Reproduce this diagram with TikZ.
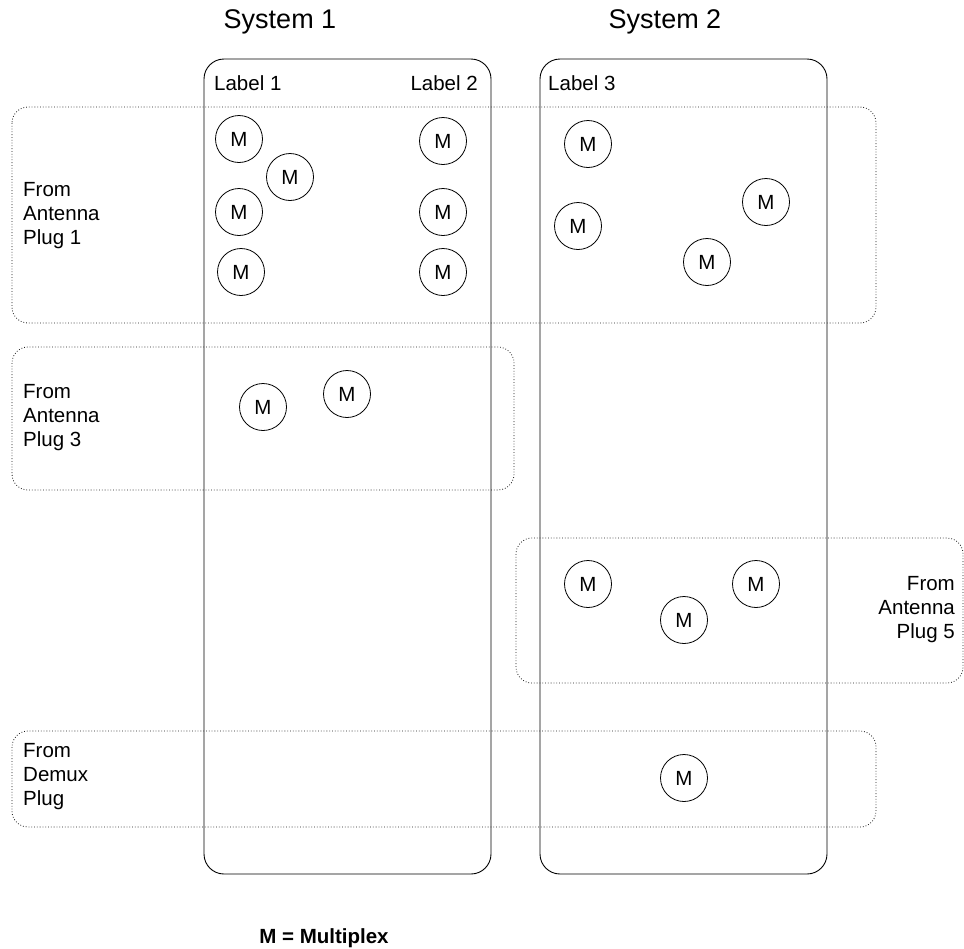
\documentclass[tikz,border=0pt]{standalone}
\usepackage{fontspec}
\setmainfont{Liberation Sans}
\begin{document}
\begin{tikzpicture}[x=1pt,y=-1pt,
  sysbox/.style={draw=black, line width=0.9pt, rounded corners=20pt},
  plugbox/.style={draw=black!90, line width=0.8pt, dotted, rounded corners=16pt},
  mux/.style={circle, draw=black, line width=0.8pt, minimum size=47pt, inner sep=0pt, font=\fontsize{20.5}{24}\selectfont},
  lbl/.style={font=\fontsize{20.5}{24}\selectfont, inner sep=0pt},
  plugtxt/.style={font=\fontsize{20.5}{24}\selectfont, inner sep=0pt, align=left},
  title/.style={font=\fontsize{27}{32}\selectfont, inner sep=0pt}]
\useasboundingbox (0,0) rectangle (964,948);

% antenna / demux groups
\draw[plugbox] (12,107) rectangle (876,323);
\draw[plugbox] (12,347) rectangle (514,490);
\draw[plugbox] (516,538) rectangle (963,683);
\draw[plugbox] (12,731) rectangle (876,827);

% systems
\draw[sysbox] (204,59) rectangle (491,874);
\draw[sysbox] (540,59) rectangle (827,874);

\node[title] (t1) at (280,22) {System 1};
\node[title] (t2) at (665,22) {System 2};

\node[lbl, anchor=west] (l1) at (214,83) {Label 1};
\node[lbl, anchor=east] (l2) at (478,83) {Label 2};
\node[lbl, anchor=west] (l3) at (548,83) {Label 3};

\node[plugtxt, anchor=north west] (p1) at (23,182) {From\\Antenna\\Plug 1};
\node[plugtxt, anchor=north west] (p3) at (23,384) {From\\Antenna\\Plug 3};
\node[plugtxt, anchor=north east, align=right] (p5) at (955,576) {From\\Antenna\\Plug 5};
\node[plugtxt, anchor=north west] (pd) at (23,743) {From\\Demux\\Plug};

% multiplexers
\node[mux] (m1) at (239,139) {M};
\node[mux] (m2) at (290,177) {M};
\node[mux] (m3) at (239,212) {M};
\node[mux] (m4) at (241,272) {M};
\node[mux] (m5) at (443,141) {M};
\node[mux] (m6) at (443,212) {M};
\node[mux] (m7) at (443,272) {M};
\node[mux] (m8) at (588,144) {M};
\node[mux] (m9) at (578,226) {M};
\node[mux] (m10) at (766,202) {M};
\node[mux] (m11) at (707,262) {M};
\node[mux] (m12) at (263,407) {M};
\node[mux] (m13) at (347,394) {M};
\node[mux] (m14) at (588,584) {M};
\node[mux] (m15) at (756,584) {M};
\node[mux] (m16) at (684,620) {M};
\node[mux] (m17) at (684,778) {M};

\node[lbl, font=\bfseries\fontsize{20.5}{24}\selectfont, anchor=base] (legend) at (324,943) {M = Multiplex};
\end{tikzpicture}
\end{document}
